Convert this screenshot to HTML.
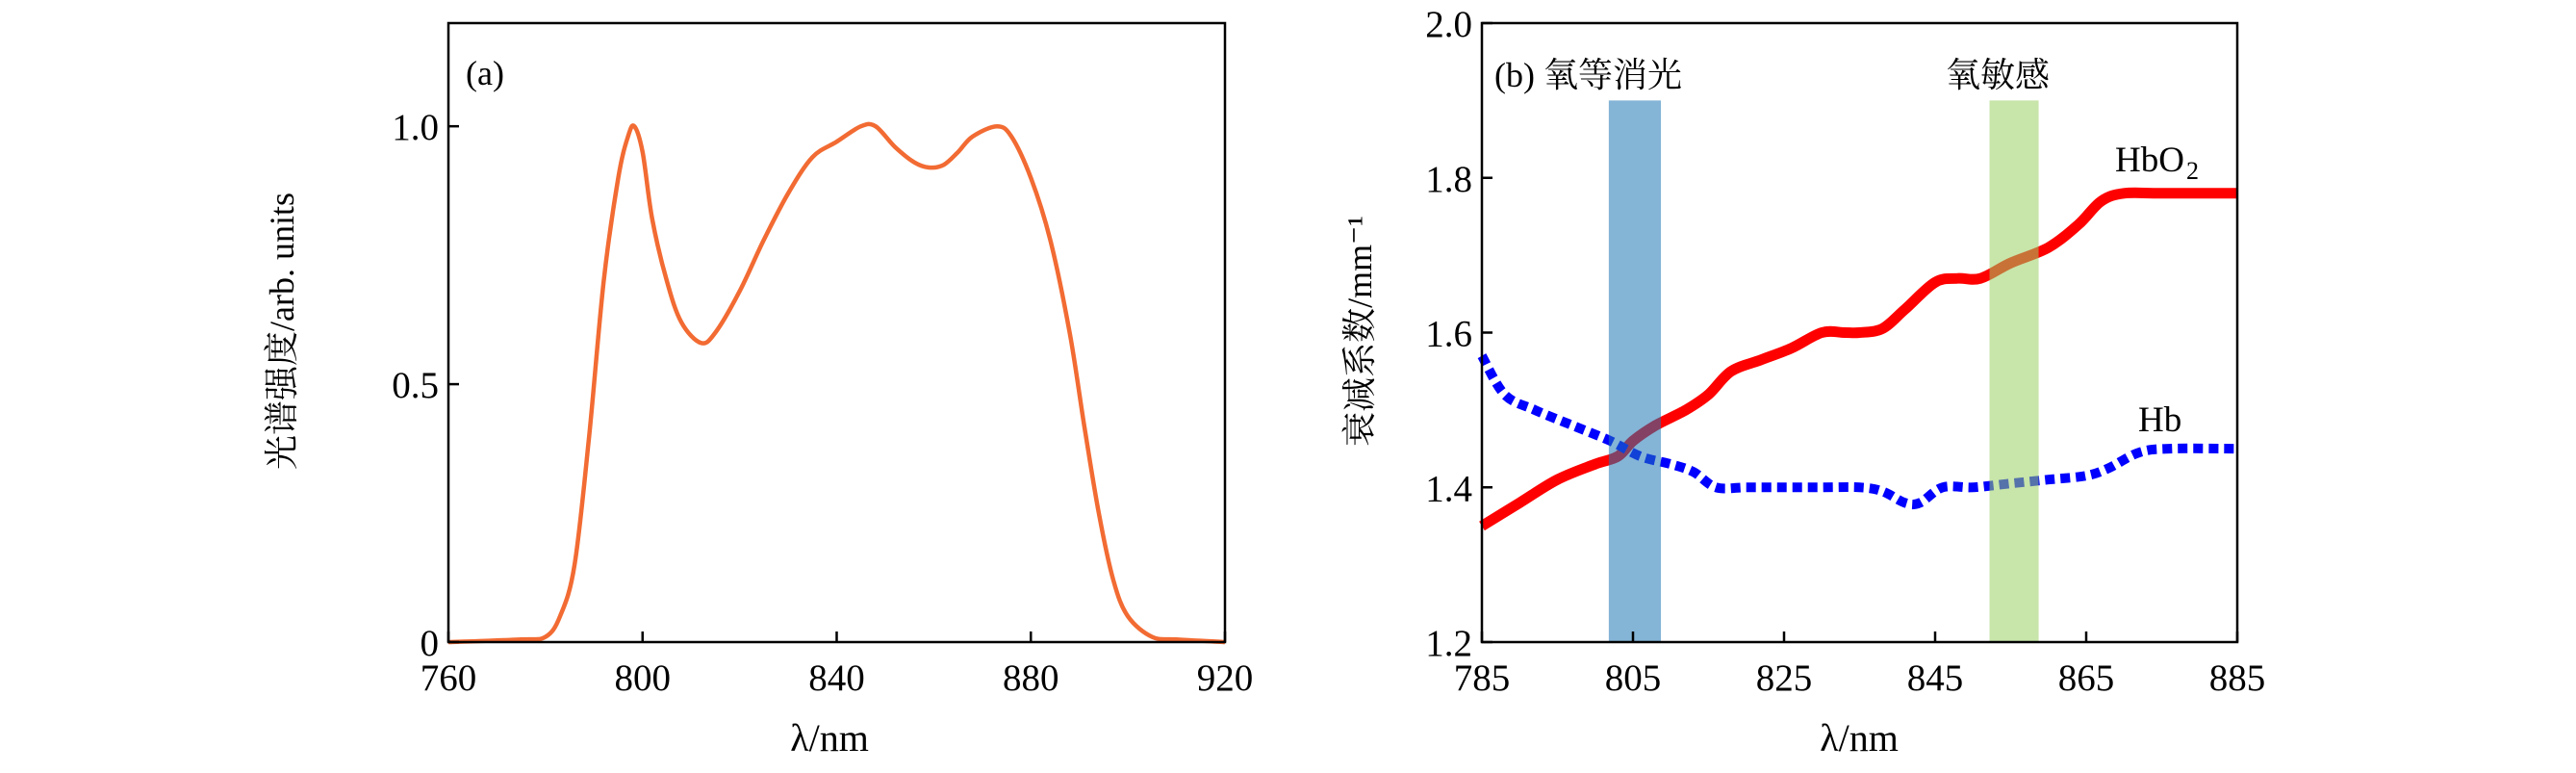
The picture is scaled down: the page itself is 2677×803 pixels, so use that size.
<!DOCTYPE html>
<html><head><meta charset="utf-8">
<style>
body{margin:0;background:#fff;}
svg{display:block;}
text{font-family:"Liberation Serif","Noto Serif CJK SC",serif;fill:#000;}
</style></head>
<body>
<svg id="fig" width="2677" height="803" viewBox="0 0 2677 803" xmlns="http://www.w3.org/2000/svg">
<g id="pa"></g>
<g id="pb"></g>
</svg>
<script>
// Panel (a) data
const aX=[760,775,780,783,786,789,792,795,797,798.3,800,802,805,808,812,815,820,825,830,835,840,845,848,852,856,859,862,865,868,873,876,880,884,888,891,894,897,900,905,910,920];
const aY=[0,0.005,0.01,0.05,0.15,0.4,0.7,0.9,0.98,1.0,0.95,0.82,0.7,0.62,0.58,0.6,0.68,0.78,0.87,0.94,0.97,1.0,1.0,0.96,0.93,0.92,0.925,0.95,0.98,1.0,0.98,0.9,0.78,0.6,0.42,0.25,0.12,0.05,0.01,0.005,0];
const aXTicks=[760,800,840,880,920];
const aYTicks=[0,0.5,1.0];
const aYTickLabels=["0","0.5","1.0"];
// Panel (b) data
const bX1=[785,790,795,800,803,805,808,812,815,818,822,826,830,833,835,838,841,845,848,851,855,860,864,867,870,875,885];
const hbo2=[1.35,1.38,1.41,1.43,1.44,1.46,1.48,1.50,1.52,1.55,1.565,1.58,1.60,1.60,1.60,1.605,1.63,1.665,1.67,1.67,1.69,1.71,1.74,1.77,1.78,1.78,1.78];
const bX2=[785,788,792,797,802,806,810,813,816,820,825,830,835,838,841,843,846,850,855,860,865,868,872,876,885];
const hb=[1.57,1.52,1.50,1.48,1.46,1.44,1.43,1.42,1.40,1.40,1.40,1.40,1.40,1.395,1.38,1.38,1.40,1.40,1.405,1.41,1.415,1.425,1.445,1.45,1.45];
const bXTicks=[785,805,825,845,865,885];
const bYTicks=[1.2,1.4,1.6,1.8,2.0];
const bands=[[801.8,808.7],[852.2,858.7]];

const NS="http://www.w3.org/2000/svg";
function el(p,t,a,txt){const e=document.createElementNS(NS,t);for(const k in a)e.setAttribute(k,a[k]);if(txt!==undefined)e.textContent=txt;p.appendChild(e);return e;}
function smooth(pts){let d='M'+pts[0][0].toFixed(1)+','+pts[0][1].toFixed(1);
 for(let i=0;i<pts.length-1;i++){const p0=pts[Math.max(i-1,0)],p1=pts[i],p2=pts[i+1],p3=pts[Math.min(i+2,pts.length-1)];
  const c1x=p1[0]+(p2[0]-p0[0])/6,c1y=p1[1]+(p2[1]-p0[1])/6,c2x=p2[0]-(p3[0]-p1[0])/6,c2y=p2[1]-(p3[1]-p1[1])/6;
  d+='C'+c1x.toFixed(1)+','+c1y.toFixed(1)+' '+c2x.toFixed(1)+','+c2y.toFixed(1)+' '+p2[0].toFixed(1)+','+p2[1].toFixed(1);}
 return d;}

// panel a
const pa=document.getElementById('pa');
const ax={l:466,r:1273,t:24,b:667};
const axs=v=>ax.l+(v-760)/160*(ax.r-ax.l);
const ays=v=>ax.b-(v/1.2)*(ax.b-ax.t);
let e=el(pa,'path',{d:smooth(aX.map((x,i)=>[axs(x),ays(aY[i])])),fill:'none',stroke:'#f26b33','stroke-width':4.5,'stroke-linejoin':'round'});


e=el(pa,'rect',{x:ax.l,y:ax.t,width:ax.r-ax.l,height:ax.b-ax.t,fill:'none',stroke:'#000','stroke-width':2.5});


aXTicks.forEach(v=>{const x=axs(v);el(pa,'line',{x1:x,x2:x,y1:ax.b,y2:ax.b-11,stroke:'#000','stroke-width':2.5});
 e=el(pa,'text',{x:x,y:ax.b+50,'font-size':39,'text-anchor':'middle'},String(v));
 
 });
aYTicks.forEach((v,i)=>{const y=ays(v);el(pa,'line',{x1:ax.l,x2:ax.l+11,y1:y,y2:y,stroke:'#000','stroke-width':2.5});
 e=el(pa,'text',{x:ax.l-10,y:y+14,'font-size':39,'text-anchor':'end'},aYTickLabels[i]);
 
 });
e=el(pa,'text',{x:484,y:88,'font-size':36},'(a)');


e=el(pa,'text',{x:862,y:780,'font-size':40,'text-anchor':'middle'},'λ/nm');


e=el(pa,'text',{x:0,y:0,'font-size':36,'text-anchor':'middle',transform:'translate(305,344) rotate(-90)'},'光谱强度/arb. units');



// panel b
const pb=document.getElementById('pb');
const bx={l:1540,r:2325,t:24,b:667};
const bxs=v=>bx.l+(v-785)/100*(bx.r-bx.l);
const bys=v=>bx.b-(v-1.2)/0.8*(bx.b-bx.t);
e=el(pb,'path',{d:smooth(bX1.map((x,i)=>[bxs(x),bys(hbo2[i])])),fill:'none',stroke:'#ff0000','stroke-width':11,'stroke-linejoin':'round'});


e=el(pb,'path',{d:smooth(bX2.map((x,i)=>[bxs(x),bys(hb[i])])),fill:'none',stroke:'#0000ff','stroke-width':10,'stroke-dasharray':'10 6'});


const bandColors=['rgba(31,119,180,0.55)','rgba(155,207,100,0.55)'];
const bandNames=['isosbestic-band','oxygen-sensitive-band'];
bands.forEach((b,i)=>{e=el(pb,'rect',{x:bxs(b[0]),y:bys(1.9),width:bxs(b[1])-bxs(b[0]),height:bys(1.2)-bys(1.9),fill:bandColors[i]});
 
 });
e=el(pb,'rect',{x:bx.l,y:bx.t,width:bx.r-bx.l,height:bx.b-bx.t,fill:'none',stroke:'#000','stroke-width':2.5});


bXTicks.forEach(v=>{const x=bxs(v);el(pb,'line',{x1:x,x2:x,y1:bx.b,y2:bx.b-11,stroke:'#000','stroke-width':2.5});
 e=el(pb,'text',{x:x,y:bx.b+50,'font-size':39,'text-anchor':'middle'},String(v));
 
 });
bYTicks.forEach(v=>{const y=bys(v);el(pb,'line',{x1:bx.l,x2:bx.l+11,y1:y,y2:y,stroke:'#000','stroke-width':2.5});
 e=el(pb,'text',{x:bx.l-10,y:y+14,'font-size':39,'text-anchor':'end'},v.toFixed(1));
 
 });
e=el(pb,'text',{x:1553,y:90,'font-size':36},'(b) 氧等消光');


e=el(pb,'text',{x:2076,y:90,'font-size':36,'text-anchor':'middle'},'氧敏感');


e=el(pb,'text',{x:2198,y:178,'font-size':37},'HbO');


el(pb,'text',{x:2272,y:186,'font-size':26},'2');
e=el(pb,'text',{x:2222,y:448,'font-size':37},'Hb');


e=el(pb,'text',{x:1932,y:780,'font-size':40,'text-anchor':'middle'},'λ/nm');


e=el(pb,'text',{x:0,y:0,'font-size':36,'text-anchor':'middle',transform:'translate(1425,344) rotate(-90)'},'衰减系数/mm⁻¹');


</script>
</body></html>
